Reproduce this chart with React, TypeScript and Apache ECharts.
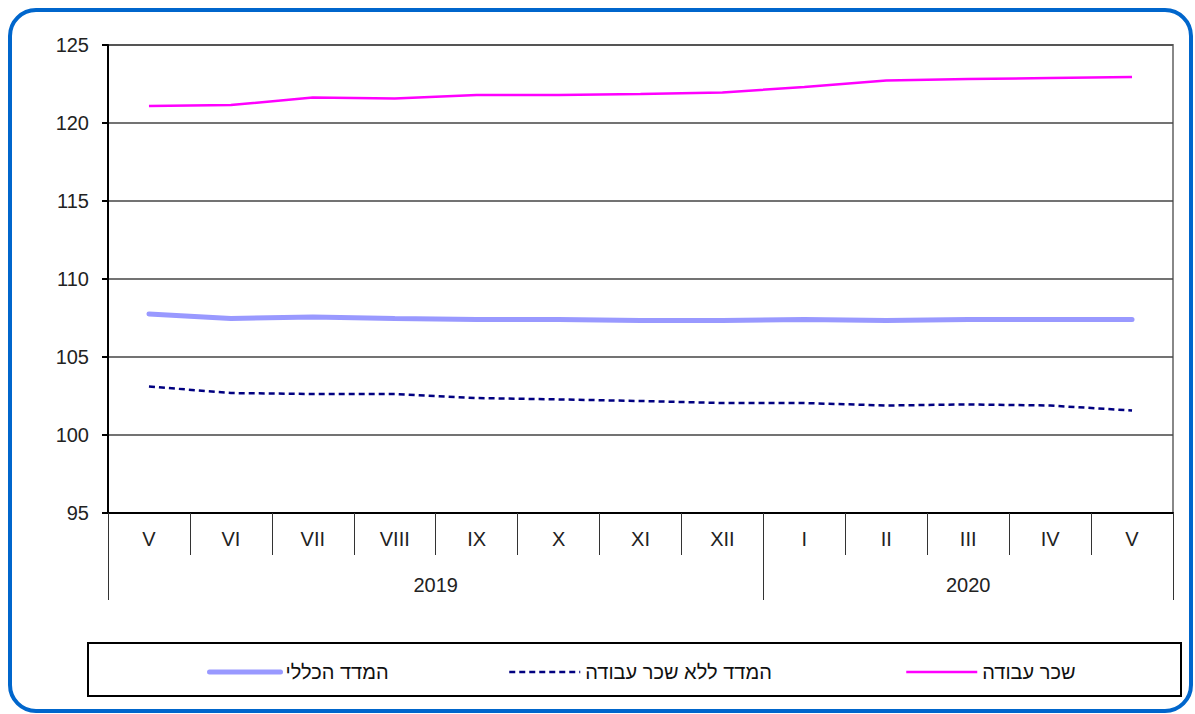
import React, { useEffect, useRef } from "react";
import * as echarts from "echarts";

const months = ["V", "VI", "VII", "VIII", "IX", "X", "XI", "XII", "I", "II", "III", "IV", "V"];
const years = ["2019", "2020"];
const yearSpans = [8, 5];
const totalIndex = [107.76, 107.47, 107.56, 107.47, 107.4, 107.4, 107.34, 107.34, 107.4, 107.34, 107.4, 107.4, 107.4];
const noWagesIndex = [103.11, 102.69, 102.63, 102.63, 102.37, 102.28, 102.18, 102.05, 102.05, 101.89, 101.96, 101.89, 101.57];
const wagesIndex = [121.09, 121.15, 121.63, 121.57, 121.8, 121.8, 121.86, 121.96, 122.3, 122.72, 122.82, 122.88, 122.95];
const seriesNames = ["המדד הכללי", "המדד ללא שכר עבודה", "שכר עבודה"];
const yTicks = [95, 100, 105, 110, 115, 120, 125];

const FONT = "'Liberation Sans', Arial, 'DejaVu Sans', sans-serif";

export default function App() {
  const ref = useRef<HTMLDivElement>(null);
  useEffect(() => {
    if (!ref.current) return;
    const chart = echarts.init(ref.current, null, { renderer: "svg" });
    const bounds: number[] = [0];
    const centers: number[] = [];
    let acc = 0;
    yearSpans.forEach((s) => {
      centers.push(acc + s / 2);
      acc += s;
      bounds.push(acc);
    });
    const legendLefts = [207, 508, 905];
    const legendWidths = [5, 2.5, 2.5];
    chart.setOption({
      animation: false,
      grid: {
        left: 108,
        right: 22,
        top: 45,
        bottom: 201,
        show: true,
        borderColor: "#888888",
        borderWidth: 2,
        backgroundColor: "transparent",
      },
      xAxis: [
        {
          type: "category",
          data: months,
          boundaryGap: true,
          axisLine: { show: true, lineStyle: { color: "#000", width: 2 } },
          axisTick: { show: true, interval: 0, length: 42, lineStyle: { color: "#333", width: 1 } },
          axisLabel: { interval: 0, fontSize: 20, color: "#222", margin: 16, fontFamily: FONT },
          splitLine: { show: false },
        },
        {
          type: "value",
          min: 0,
          max: months.length,
          position: "bottom",
          axisLine: { show: false },
          axisTick: {
            show: true,
            length: 87,
            customValues: bounds,
            lineStyle: { color: "#333", width: 1 },
          },
          axisLabel: {
            show: true,
            customValues: centers,
            fontSize: 20,
            color: "#222",
            margin: 62,
            fontFamily: FONT,
            formatter: (v: number) => {
              const i = centers.indexOf(v);
              return i >= 0 ? years[i] : "";
            },
          },
          splitLine: { show: false },
        },
      ],
      yAxis: {
        type: "value",
        min: yTicks[0],
        max: yTicks[yTicks.length - 1],
        interval: 5,
        axisLine: { show: true, lineStyle: { color: "#000", width: 2 } },
        axisTick: { show: true, length: 6, lineStyle: { color: "#000", width: 2 } },
        axisLabel: { fontSize: 20, color: "#222", margin: 19, fontFamily: FONT },
        splitLine: { show: true, lineStyle: { color: "#444", width: 1.5 } },
      },
      legend: legendLefts.map((l, i) => ({
        data: [seriesNames[i]],
        left: l,
        top: 662,
        itemWidth: 71,
        itemHeight: 14,
        itemGap: 5,
        padding: 0,
        itemStyle: { opacity: 0 },
        lineStyle: { width: legendWidths[i] },
        textStyle: { fontSize: 20, color: "#111", fontFamily: FONT },
        selectedMode: false,
      })),
      graphic: [
        {
          type: "rect",
          shape: { x: 10, y: 10, width: 1181, height: 701, r: 26 },
          style: { fill: "none", stroke: "#0066CC", lineWidth: 4 },
          silent: true,
        },
        {
          type: "rect",
          shape: { x: 88, y: 643, width: 1093, height: 53 },
          style: { fill: "none", stroke: "#000", lineWidth: 2 },
          silent: true,
        },
      ],
      series: [
        {
          name: seriesNames[0],
          type: "line",
          xAxisIndex: 0,
          data: totalIndex,
          symbol: "none",
          smooth: false,
          lineStyle: { color: "#9999FF", width: 5, cap: "round" },
          itemStyle: { color: "#9999FF" },
          z: 3,
        },
        {
          name: seriesNames[1],
          type: "line",
          xAxisIndex: 0,
          data: noWagesIndex,
          symbol: "none",
          lineStyle: { color: "#000080", width: 2.5, type: [6, 4] },
          itemStyle: { color: "#000080" },
          z: 3,
        },
        {
          name: seriesNames[2],
          type: "line",
          xAxisIndex: 0,
          data: wagesIndex,
          symbol: "none",
          lineStyle: { color: "#FF00FF", width: 2.5 },
          itemStyle: { color: "#FF00FF" },
          z: 3,
        },
      ],
    });
    return () => chart.dispose();
  }, []);
  return (
    <div
      ref={ref}
      style={{ position: "fixed", left: 0, top: 0, width: 1195, height: 714, background: "#fff" }}
    />
  );
}
